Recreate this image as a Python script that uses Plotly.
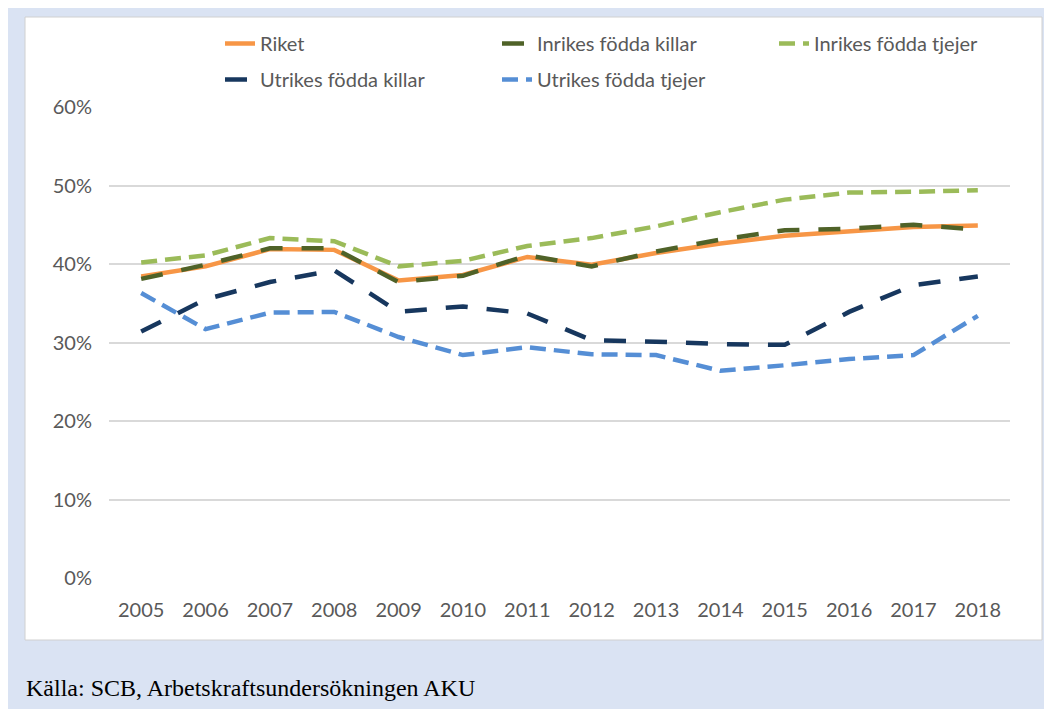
import plotly.graph_objects as go

YEARS = [str(y) for y in range(2005, 2019)]

RIKET = [0.384, 0.397, 0.419, 0.418, 0.379, 0.386, 0.409, 0.399, 0.414, 0.426, 0.436, 0.442, 0.447, 0.449]
INRIKES_KILLAR = [0.381, 0.399, 0.420, 0.420, 0.377, 0.385, 0.411, 0.397, 0.416, 0.431, 0.443, 0.445, 0.450, 0.444]
INRIKES_TJEJER = [0.402, 0.411, 0.433, 0.429, 0.397, 0.404, 0.423, 0.433, 0.448, 0.466, 0.482, 0.491, 0.492, 0.494]
UTRIKES_KILLAR = [0.314, 0.355, 0.377, 0.392, 0.339, 0.346, 0.337, 0.303, 0.301, 0.298, 0.297, 0.339, 0.373, 0.384]
UTRIKES_TJEJER = [0.363, 0.317, 0.338, 0.339, 0.307, 0.284, 0.294, 0.285, 0.284, 0.264, 0.271, 0.279, 0.284, 0.334]

Y_TICKS = [0, 0.1, 0.2, 0.3, 0.4, 0.5, 0.6]
SOURCE = "Källa: SCB, Arbetskraftsundersökningen AKU"

W, H = 1052, 709
OFF = 8  # page body margin shifts the figure
ML, MR, MT, MB = 101, 50, 99, 139
PW, PH = W - ML - MR, H - MT - MB


def px_x(x):
    # screen x -> paper fraction
    return (x - OFF - ML) / PW


def px_y(y):
    return (H - MB - (y - OFF)) / PH


series = [
    ("Riket", RIKET, "#F79646", "solid", "legend"),
    ("Inrikes födda killar", INRIKES_KILLAR, "#4F6228", "22px,19px", "legend"),
    ("Inrikes födda tjejer", INRIKES_TJEJER, "#9BBB59", "16px,8px", "legend"),
    ("Utrikes födda killar", UTRIKES_KILLAR, "#17375E", "22px,19px", "legend2"),
    ("Utrikes födda tjejer", UTRIKES_TJEJER, "#558ED5", "16px,8px", "legend2"),
]

fig = go.Figure()
for name, vals, color, dash, leg in series:
    fig.add_trace(go.Scatter(
        x=YEARS, y=vals, name=name, mode="lines", legend=leg,
        line=dict(color=color, width=4.5, dash=dash),
        hovertemplate="%{x}: %{y:.1%}<extra>" + name + "</extra>",
    ))

# white chart box on the light blue page
fig.add_shape(type="rect", xref="paper", yref="paper",
              x0=px_x(25), x1=px_x(1042), y0=px_y(640), y1=px_y(17),
              fillcolor="white", line=dict(color="#D0D0D0", width=1), layer="below")

fig.add_annotation(text=SOURCE, xref="paper", yref="paper",
                   x=px_x(24), y=px_y(688), xanchor="left", yanchor="middle",
                   showarrow=False, font=dict(family="Liberation Serif", size=24, color="black"))

leg_style = dict(orientation="h", xanchor="left", yanchor="top",
                 entrywidth=232, entrywidthmode="pixels", bgcolor="rgba(0,0,0,0)",
                 font=dict(size=20, color="#595959"))

fig.update_layout(
    width=W, height=H,
    margin=dict(l=ML, r=MR, t=MT, b=MB, autoexpand=False),
    paper_bgcolor="#DAE3F3",
    plot_bgcolor="white",
    font=dict(family="Lato", size=20, color="#595959"),
    showlegend=True,
    legend=dict(x=px_x(220), y=px_y(24), **leg_style),
    legend2=dict(x=px_x(220), y=px_y(60), **leg_style),
)
fig.update_xaxes(type="category", range=[-0.5, 13.5], showgrid=False, showline=False,
                 ticks="", ticklabelstandoff=18)
fig.update_yaxes(range=[0, 0.6], tickvals=Y_TICKS, tickformat=".0%", showgrid=True,
                 gridcolor="#D9D9D9", gridwidth=1.5, zeroline=False, showline=False,
                 ticks="", ticklabelstandoff=16)

fig.write_html("out.html")
